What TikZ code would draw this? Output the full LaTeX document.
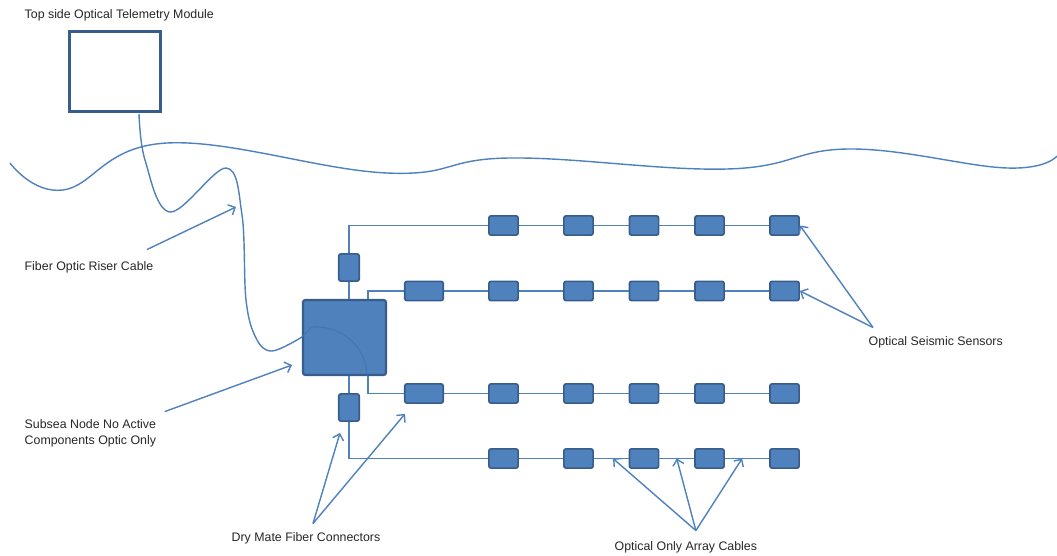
\documentclass[tikz,border=0pt]{standalone}
\usepackage{fontspec}
\setmainfont{Liberation Sans}
\usepackage{xcolor}
\usetikzlibrary{arrows.meta,calc}
\definecolor{cable}{RGB}{79,129,189}
\definecolor{unitfill}{RGB}{79,129,189}
\definecolor{unitedge}{RGB}{56,93,138}

\begin{document}
\begin{tikzpicture}[x=0.025cm,y=-0.025cm,
  lbl/.style={font=\fontsize{8.8}{11.3}\selectfont,text=black!85,inner sep=1pt,
    anchor=west,align=left},
  unit/.style={draw=unitedge,fill=unitfill,line width=1.2pt,rounded corners=1.5pt,
    inner sep=0pt},
  sensor/.style={unit,minimum width=0.73cm,minimum height=0.48cm},
  lead/.style={unit,minimum width=0.96cm,minimum height=0.48cm},
  plug/.style={unit,minimum width=0.51cm,minimum height=0.68cm},
  tbox/.style={draw=unitedge,fill=white,line width=2pt,minimum width=2.28cm,
    minimum height=2.0cm,inner sep=0pt},
  wire/.style={cable,line width=1pt},
  callout/.style={cable,line width=1pt,-{Straight Barb[length=4pt,width=8pt]}}]
\useasboundingbox (0,0) rectangle (1057,556);
% --- sea surface ---
\draw[wire] plot[smooth,tension=0.7] coordinates {(10,163) (63,190) (167,143)
  (387,173) (510,158) (727,169) (850,149) (1007,168) (1057,156)};
% --- riser cable ---
\draw[wire] plot[smooth,tension=0.6] coordinates {(139,114) (145,160) (170,212)
  (226,168) (242,215) (246,300) (256,338) (272,351) (302,337)};

% --- top side module, subsea node, dry mate connectors ---
\node[tbox] (top) at (115,71.5) {};
\node[unit,minimum width=2.07cm,minimum height=1.87cm,line width=1.6pt] (hub)
  at (344.5,337.5) {};
\draw[unitedge!35!unitfill,line width=0.6pt] (302,337) -- (312,327)
  .. controls (345,325) and (367,350) .. (367,376);
\node[plug] (c1) at (349,267.5) {};
\node[plug] (c2) at (349,407.5) {};
\node[lead] (r2) at (424,291) {};
\node[lead] (r3) at (424,393.5) {};

% --- sensor arrays ---
\foreach \r/\y in {1/225.5,2/291,3/393.5,4/458.5}
  \foreach \c/\x in {1/503.5,2/578.5,3/644,4/709.5,5/784.5}
    \node[sensor] (s\r\c) at (\x,\y) {};
\draw[wire] (hub.north -| c1) -- (c1.south);
\draw[wire] (c1.north) |- (s11.west);
\draw[wire] ([xshift=-13.5pt]hub.north east) |- (r2.west);
\draw[wire] (r2.east) -- (s21.west);
\draw[wire] ([xshift=-13.5pt]hub.south east) |- (r3.west);
\draw[wire] (r3.east) -- (s31.west);
\draw[wire] (hub.south -| c2) -- (c2.north);
\draw[wire] (c2.south) |- (s41.west);
\foreach \r in {1,...,4}
  \foreach \c [count=\n from 2] in {1,...,4}
    \draw[wire] (s\r\c.east) -- (s\r\n.west);

% --- labels ---
\node[lbl] (lTop) at (23,15) {Top side Optical Telemetry Module};
\node[lbl] (lRiser) at (23,267) {Fiber Optic Riser Cable};
\node[lbl] (lHub) at (23,433) {Subsea Node No Active\\Components Optic Only};
\node[lbl] (lPlug) at (230,538) {Dry Mate Fiber Connectors};
\node[lbl] (lArray) at (613,547) {Optical Only Array Cables};
\node[lbl] (lSensor) at (867,342) {Optical Seismic Sensors};

% --- callouts ---
\coordinate (pRiser) at (236,207);
\draw[callout] ([shift={(-8,-10)}]lRiser.north east) -- (pRiser);
\draw[callout] ([shift={(7,-6)}]lHub.north east) -- ([shift={(-10,-11)}]hub.south west);
\draw[callout] ([shift={(7,-7)}]lPlug.north) -- ([shift={(-9,11)}]c2.south);
\draw[callout] ([shift={(7,-7)}]lPlug.north) -- ([shift={(1,10)}]r3.south west);
\draw[callout] ([shift={(10,-9)}]lArray.north) -- ($(s42.east)!0.55!(s43.west)$);
\draw[callout] ([shift={(10,-9)}]lArray.north) -- ($(s43.east)!0.5!(s44.west)$);
\draw[callout] ([shift={(10,-9)}]lArray.north) -- ($(s44.east)!0.39!(s45.west)$);
\draw[callout] ([shift={(6,-7)}]lSensor.north west) -- (s15.east);
\draw[callout] ([shift={(6,-7)}]lSensor.north west) -- (s25.east);
\end{tikzpicture}
\end{document}
